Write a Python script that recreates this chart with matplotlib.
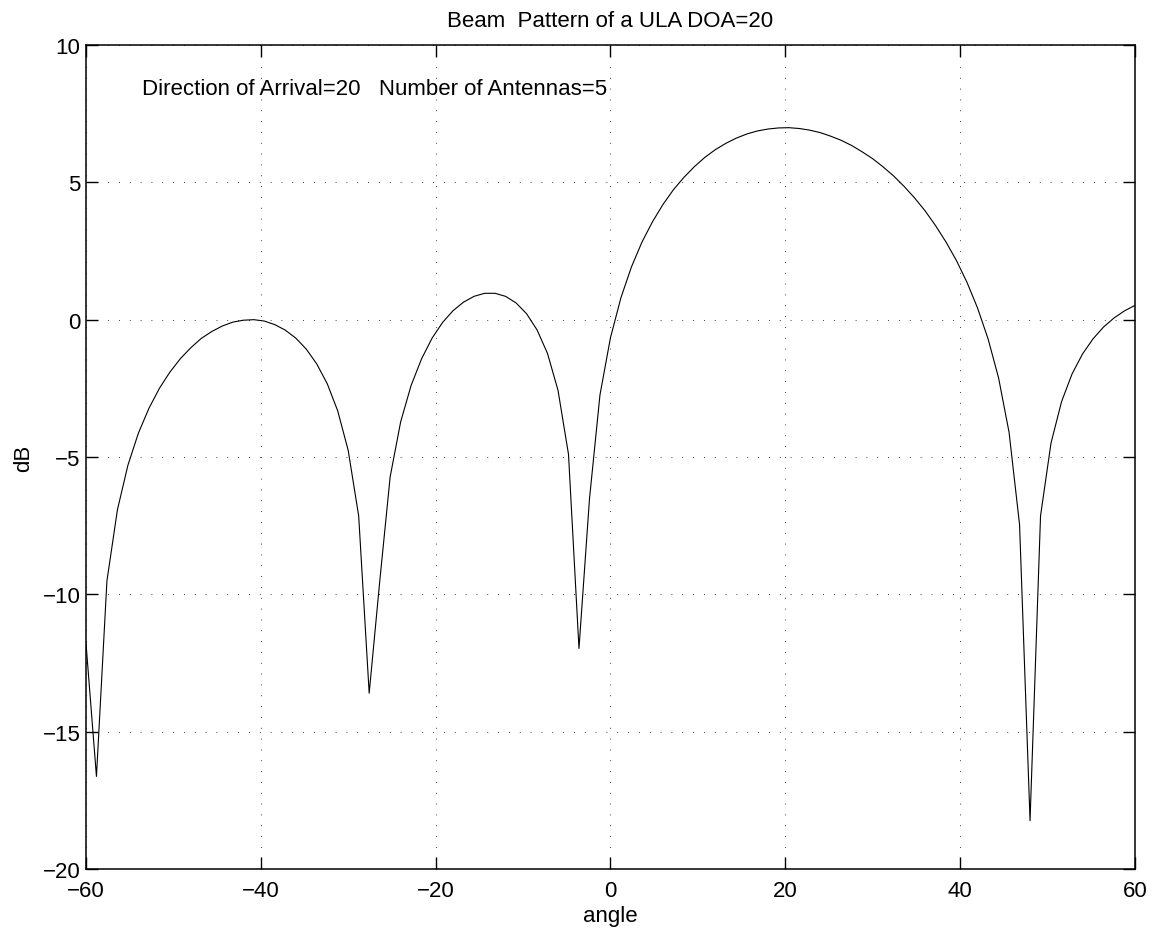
import matplotlib
matplotlib.use("Agg")
import matplotlib.pyplot as plt

# scan angles (deg), -60:1.2:60
angle_start = -60.0
angle_step = 1.2

# beam pattern values (dB), one per angle
pattern_db = [
    -11.76, -16.63, -9.51, -6.92, -5.30, -4.13, -3.23, -2.50, -1.91, -1.42,
    -1.02, -0.68, -0.43, -0.23, -0.09, -0.02, -0.00, -0.05, -0.18, -0.38,
    -0.67, -1.07, -1.61, -2.33, -3.32, -4.76, -7.15, -13.60, -9.55, -5.72,
    -3.72, -2.39, -1.42, -0.67, -0.10, 0.33, 0.64, 0.85, 0.96, 0.96,
    0.85, 0.61, 0.22, -0.37, -1.23, -2.57, -4.90, -11.97, -6.53, -2.74,
    -0.66, 0.80, 1.92, 2.82, 3.56, 4.19, 4.73, 5.18, 5.57, 5.91,
    6.19, 6.42, 6.61, 6.76, 6.87, 6.94, 6.98, 6.99, 6.96, 6.90,
    6.81, 6.68, 6.53, 6.34, 6.11, 5.86, 5.56, 5.23, 4.85, 4.43,
    3.96, 3.42, 2.82, 2.14, 1.35, 0.42, -0.70, -2.12, -4.10, -7.46,
    -18.24, -7.14, -4.49, -2.99, -1.98, -1.25, -0.70, -0.27, 0.06, 0.32,
    0.52,
]
angles = [round(angle_start + i * angle_step, 1) for i in range(len(pattern_db))]

x_ticks = [-60, -40, -20, 0, 20, 40, 60]
y_ticks = [-20, -15, -10, -5, 0, 5, 10]

title_text = "Beam  Pattern of a ULA DOA=20"
note_text = "Direction of Arrival=20   Number of Antennas=5"

plt.rcParams["font.family"] = ["Liberation Sans", "DejaVu Sans"]

fig = plt.figure(figsize=(11.6, 9.37), dpi=100)
ax = fig.add_axes([0.0741, 0.0715, 0.9043, 0.8794])

ax.plot(angles, pattern_db, color="black", linewidth=0.8)

ax.set_xlim(-60, 60)
ax.set_ylim(-20, 10)
ax.set_xticks(x_ticks)
ax.set_yticks(y_ticks)
ax.grid(True, color="black", linestyle=(0, (1, 12)), linewidth=0.6)
ax.tick_params(direction="in", top=True, right=True, length=8.5, width=1.0,
               labelsize=16)
ax.tick_params(axis="x", pad=8)
ax.tick_params(axis="y", pad=4)
for sp in ax.spines.values():
    sp.set_linewidth(1.1)

ax.set_xlabel("angle", fontsize=16, labelpad=3)
ax.set_ylabel("dB", fontsize=16, labelpad=6)
ax.set_title(title_text, fontsize=16, pad=14)
ax.text(-53.6, 8.4, note_text, fontsize=16, ha="left", va="center")

fig.savefig("out.png", dpi=100)
